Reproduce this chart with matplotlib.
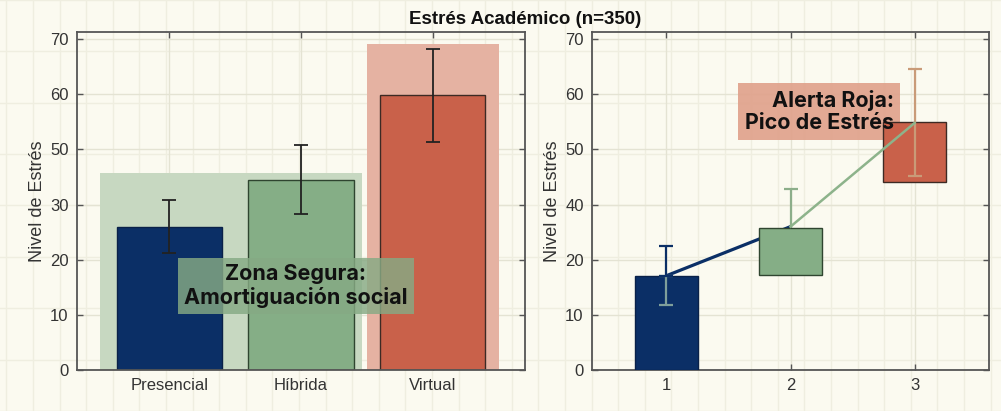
import numpy as np
import matplotlib
matplotlib.use("Agg")
import matplotlib.pyplot as plt
from matplotlib.patches import Rectangle

# ---------------- data ----------------
title = "Estrés Académico (n=350)"
ylabel = "Nivel de Estrés"

left_categories = ["Presencial", "Híbrida", "Virtual"]
left_means = [26.0, 34.5, 49.8]
left_errs = [4.85, 6.25, 8.4]
left_ytick_labels = ["0", "10", "20", "30", "50", "60", "70"]

zone_green_x = [0.475, 2.46]
zone_green_top = 35.7
zone_red_x = [2.50, 3.50]
zone_red_top = 59.2

right_x = [1, 2, 3]
right_box_bottom = [0.0, 17.3, 34.1]
right_box_top = [17.1, 25.8, 44.9]
right_line = [17.1, 26.0, 44.8]
right_errs = [5.4, 6.8, 9.7]
right_xtick_labels = ["1", "2", "3"]
right_ytick_labels = ["0", "10", "20", "40", "50", "60", "70"]

yticks = [0, 10, 20, 30, 40, 50, 60]

note_left = "Zona Segura:\nAmortiguación social"
note_left_xy = (1.96, 15.2)
note_right = "Alerta Roja:\nPico de Estrés"
note_right_xy = (2.23, 46.9)

# ---------------- style ----------------
BG = "#fbfaf0"
PAPER = "#efeee0"
GRID = "#e4e3d3"
NAVY = "#0b2f66"
GREEN = "#85ae86"
RED = "#c9614a"
SPINE = "#555555"
colors = [NAVY, GREEN, RED]
edges = ["#0a2148", "#2f4530", "#3d2a24"]

plt.rcParams["font.family"] = ["Liberation Sans", "DejaVu Sans"]

W, H = 1001, 411
fig = plt.figure(figsize=(W / 100, H / 100), dpi=100, facecolor=BG)

# paper background grid
bg = fig.add_axes([0, 0, 1, 1], zorder=-10)
bg.set_xlim(0, W)
bg.set_ylim(H, 0)
bg.set_facecolor(BG)
bg.set_xticks(np.arange(6.4, W, 26.6))
bg.set_yticks(np.arange(39.3 - 55.1, H + 55, 55.1))
bg.grid(True, color=PAPER, lw=1.0)
bg.tick_params(length=0, labelbottom=False, labelleft=False)
for s in bg.spines.values():
    s.set_visible(False)


def style_axes(ax, ytl):
    ax.set_facecolor("none")
    ax.set_ylim(0, 61.3)
    ax.set_yticks(yticks)
    ax.set_yticklabels(ytl)
    ax.grid(True, color=GRID, lw=1.0, zorder=0)
    ax.set_axisbelow(True)
    ax.tick_params(direction="in", top=True, right=True, length=4, width=1,
                   color=SPINE, labelsize=12, labelcolor="#333333", pad=6)
    for s in ax.spines.values():
        s.set_color(SPINE)
        s.set_linewidth(1.3)
    ax.set_ylabel(ylabel, fontsize=13, color="#333333", labelpad=3)


# ---------------- left panel ----------------
axL = fig.add_axes([77 / W, 1 - 370 / H, 448 / W, 338 / H])
style_axes(axL, left_ytick_labels)
axL.set_xlim(0.3, 3.7)
xl = np.arange(1, len(left_categories) + 1)
axL.set_xticks(xl)
axL.set_xticklabels(left_categories, fontsize=12)

axL.add_patch(Rectangle((zone_green_x[0], 0), zone_green_x[1] - zone_green_x[0],
                        zone_green_top, facecolor="#c7d8c1", edgecolor="none", zorder=1))
axL.add_patch(Rectangle((zone_red_x[0], 0), zone_red_x[1] - zone_red_x[0],
                        zone_red_top, facecolor="#e5b2a2", edgecolor="none", zorder=1))

axL.bar(xl, left_means, width=0.8, color=colors, edgecolor=edges, linewidth=1.0, zorder=2)
axL.errorbar(xl, left_means, yerr=left_errs, fmt="none", ecolor="#222222",
             elinewidth=1.3, capsize=5, capthick=1.3, zorder=3)

axL.text(*note_left_xy, note_left, ha="center", va="center", fontsize=15.5,
         fontweight="bold", family=["Inter", "DejaVu Sans"], color="#111111", zorder=5,
         linespacing=1.15,
         bbox=dict(boxstyle="square,pad=0.3", facecolor="#86aa84", edgecolor="none", alpha=0.82))

# ---------------- right panel ----------------
axR = fig.add_axes([592 / W, 1 - 370 / H, 397 / W, 338 / H])
style_axes(axR, right_ytick_labels)
axR.set_xlim(0.4, 3.6)
axR.set_xticks(right_x)
axR.set_xticklabels(right_xtick_labels, fontsize=12)

heights = np.array(right_box_top) - np.array(right_box_bottom)

# navy segment (under box 2)
axR.plot(right_x[:2], right_line[:2], color=NAVY, lw=2.3, zorder=2, solid_capstyle="round")
# green error bar (lower half hidden by box 2)
axR.errorbar(right_x[1], right_line[1], yerr=right_errs[1], fmt="none", ecolor="#8cae8a",
             elinewidth=1.6, capsize=5, capthick=1.6, zorder=2)

axR.bar(right_x, heights, bottom=right_box_bottom, width=0.51, color=colors,
        edgecolor=edges, linewidth=1.0, zorder=3)

# error bar 1: lower half light, upper half navy
axR.errorbar(right_x[0], right_line[0], yerr=[[right_errs[0]], [0]], fmt="none",
             ecolor="#7f9f9b", elinewidth=1.6, capsize=5, capthick=1.6, zorder=4)
axR.errorbar(right_x[0], right_line[0], yerr=[[0], [right_errs[0]]], fmt="none",
             ecolor=NAVY, elinewidth=1.6, capsize=5, capthick=1.6, zorder=4)
# error bar 3
axR.errorbar(right_x[2], right_line[2], yerr=right_errs[2], fmt="none", ecolor="#c99b78",
             elinewidth=1.6, capsize=5, capthick=1.6, zorder=4)

note_kw = dict(ha="center", va="center", multialignment="right", fontsize=15.5,
               fontweight="bold", family=["Inter", "DejaVu Sans"], linespacing=1.15)
# box layer (under the red box) and text layer (over it)
axR.text(*note_right_xy, note_right, color=(0, 0, 0, 0), zorder=2.5,
         bbox=dict(boxstyle="square,pad=0.3", facecolor="#e0a28c", edgecolor="none",
                   alpha=0.92), **note_kw)
axR.text(*note_right_xy, note_right, color="#111111", zorder=4.5, **note_kw)

# green segment (over box 3)
axR.plot(right_x[1:], right_line[1:], color="#8db38b", lw=1.8, zorder=5)

fig.text(525 / W, 1 - 19 / H, title, ha="center", va="center", fontsize=13.5,
         fontweight="bold", color="#111111")

fig.savefig("out.png", dpi=100, facecolor=BG)
